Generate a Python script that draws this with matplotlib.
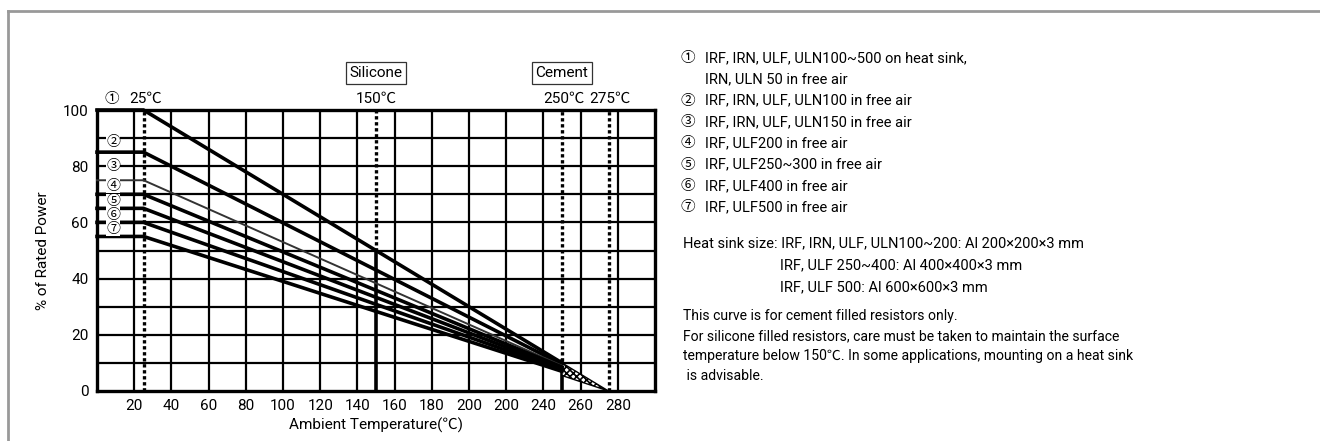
#!/usr/bin/env python3
"""Power derating curve for wire-wound resistors, with notes on the right."""

import matplotlib
matplotlib.use("Agg")
import matplotlib.pyplot as plt
from matplotlib.lines import Line2D

plt.rcParams["font.family"] = ["Roboto", "Noto Sans CJK JP", "DejaVu Sans"]
plt.rcParams["hatch.linewidth"] = 1.2

# --- data ------------------------------------------------------------------
X_TICKS = [20, 40, 60, 80, 100, 120, 140, 160, 180, 200, 220, 240, 260, 280]
X_TICK_LABELS = ["20", "40", "60", "80", "100", "120", "140", "160", "180",
                 "200", "200", "240", "260", "280"]
Y_TICKS = [0, 20, 40, 60, 80, 100]
Y_GRID = [10, 20, 30, 40, 50, 60, 70, 80, 90]

CURVE_NAMES = ["①", "②", "③", "④", "⑤", "⑥", "⑦"]
CURVE_START = [100, 85, 75, 70, 65, 60, 55]      # % at 25 degC (and below)
CURVE_END = [10, 9.5, 9, 8.5, 8, 7.5, 7]         # % at 250 degC
KNEE_T = 25
END_T = 250
ZERO_T = 275

SILICONE_T = 150
SILICONE_PCT = 50
CEMENT_T = 250
CEMENT_PCT = 10.5
TAIL_LOW = 5.5

# --- figure ----------------------------------------------------------------
fig = plt.figure(figsize=(13.2, 4.41), dpi=100)
W, H = 1320, 441


def fx(px):
    return px / W


def fy(py):
    return 1 - py / H


ax = fig.add_axes([fx(97), fy(391), fx(655) - fx(97), fy(110) - fy(391)])
ax.set_xlim(0, 300)
ax.set_ylim(0, 100)

for t in X_TICKS:
    ax.axvline(t, color="black", lw=1.6, zorder=1)
for v in Y_GRID:
    ax.axhline(v, color="black", lw=1.6, zorder=1)

for sp in ax.spines.values():
    sp.set_linewidth(2.4)

ax.set_xticks(X_TICKS)
ax.set_xticklabels(X_TICK_LABELS)
ax.set_yticks(Y_TICKS)
ax.tick_params(length=0, labelsize=11, pad=6)
ax.set_xlabel("Ambient Temperature(℃)", fontsize=11)
ax.set_ylabel("% of Rated Power", fontsize=11)
ax.xaxis.set_label_coords(0.5, -0.095)
ax.yaxis.set_label_coords(-0.085, 0.5)

# dotted temperature markers
dot = dict(color="black", lw=2.4, linestyle=(0, (1.0, 0.8)), zorder=3)
ax.plot([KNEE_T, KNEE_T], [0, 100], **dot)
ax.plot([SILICONE_T, SILICONE_T], [SILICONE_PCT, 100], **dot)
ax.plot([CEMENT_T, CEMENT_T], [CEMENT_PCT, 100], **dot)
ax.plot([ZERO_T, ZERO_T], [0, 100], **dot)

# solid limits
ax.plot([SILICONE_T, SILICONE_T], [0, SILICONE_PCT], color="black", lw=2.6, zorder=4)
ax.plot([CEMENT_T, CEMENT_T], [0, CEMENT_PCT], color="black", lw=2.6, zorder=4)

# hatched tail between 250 and 275 degC
ax.fill([END_T, ZERO_T, END_T], [CURVE_END[0], 0, TAIL_LOW],
        facecolor="white", edgecolor="black", hatch="xxxxx", lw=1.0, zorder=4)

# derating curves
for name, start, end in zip(CURVE_NAMES, CURVE_START, CURVE_END):
    thin = name == "③"
    ax.plot([0, KNEE_T, END_T], [start, start, end],
            color="#333333" if thin else "black",
            lw=1.4 if thin else 2.6, zorder=5, solid_joinstyle="miter",
            clip_on=False)

# circled labels for curves 2-7
label_y = [88.5, 80, 73, 67.5, 62.5, 57.5]
for name, yy in zip(CURVE_NAMES[1:], label_y):
    ax.text(8.6, yy, name, ha="center", va="center", fontsize=10,
            family=["Noto Sans CJK JP"], zorder=6,
            bbox=dict(boxstyle="square,pad=0.0", fc="white", ec="none"))

# labels above the plot
ax.text(8, 104, "①", ha="center", va="center", fontsize=10.5,
        family=["Noto Sans CJK JP"], clip_on=False)
ax.text(26, 104, "25℃", ha="center", va="center", fontsize=11, clip_on=False)
ax.text(150, 104, "150℃", ha="center", va="center", fontsize=11, clip_on=False)
ax.text(251, 104, "250℃", ha="center", va="center", fontsize=11, clip_on=False)
ax.text(276, 104, "275℃", ha="center", va="center", fontsize=11, clip_on=False)
box = dict(boxstyle="square,pad=0.25", fc="white", ec="#333333", lw=0.9)
ax.text(150, 113.2, "Silicone", ha="center", va="center", fontsize=11,
        clip_on=False, bbox=box)
ax.text(250, 113.2, "Cement", ha="center", va="center", fontsize=11,
        clip_on=False, bbox=box)

# notes on the right
notes = [
    ("①", "IRF, IRN, ULF, ULN100~500 on heat sink,"),
    ("", "IRN, ULN 50 in free air"),
    ("②", "IRF, IRN, ULF, ULN100 in free air"),
    ("③", "IRF, IRN, ULF, ULN150 in free air"),
    ("④", "IRF, ULF200 in free air"),
    ("⑤", "IRF, ULF250~300 in free air"),
    ("⑥", "IRF, ULF400 in free air"),
    ("⑦", "IRF, ULF500 in free air"),
]
for k, (num, txt) in enumerate(notes):
    yy = 58 + k * 21.3
    if num:
        fig.text(fx(688), fy(yy), num, ha="center", va="center", fontsize=10.5,
                 family=["Noto Sans CJK JP"])
    fig.text(fx(705), fy(yy), txt, ha="left", va="center", fontsize=10.5)

fig.text(fx(683), fy(243), "Heat sink size: IRF, IRN, ULF, ULN100~200: Al 200×200×3 mm",
         ha="left", va="center", fontsize=10.5)
fig.text(fx(780), fy(265), "IRF, ULF 250~400: Al 400×400×3 mm",
         ha="left", va="center", fontsize=10.5)
fig.text(fx(780), fy(287), "IRF, ULF 500: Al 600×600×3 mm",
         ha="left", va="center", fontsize=10.5)

para = [
    "This curve is for cement filled resistors only.",
    "For silicone filled resistors, care must be taken to maintain the surface",
    "temperature below 150℃. In some applications, mounting on a heat sink",
    " is advisable.",
]
for k, line in enumerate(para):
    fig.text(fx(683), fy(316 + k * 20), line, ha="left", va="center", fontsize=10.1)

# grey frame along top and left edge
fig.add_artist(Line2D([fx(8), 1], [fy(11), fy(11)], color="#999999", lw=2))
fig.add_artist(Line2D([fx(8), fx(8)], [fy(11), 0], color="#999999", lw=2))

fig.savefig("out.png", dpi=100)
